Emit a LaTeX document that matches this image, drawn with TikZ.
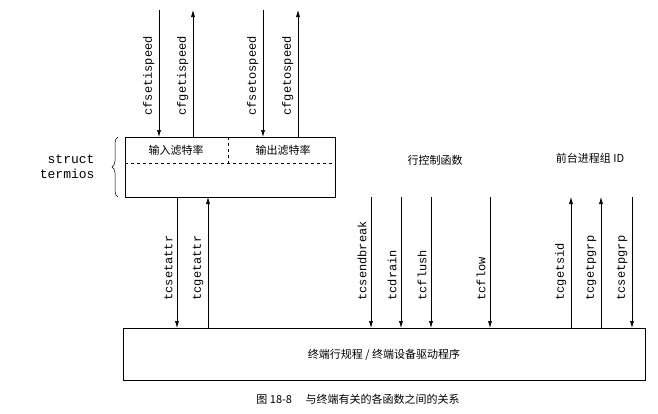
\documentclass[tikz,border=0pt]{standalone}
\usepackage{fontspec}
\setmonofont{Liberation Mono}
\newfontfamily\cjk{Noto Sans CJK SC}
\usetikzlibrary{decorations.pathreplacing,arrows.meta}
\begin{document}
\begin{tikzpicture}[x=1pt,y=-1pt,
  fn/.style={font=\ttfamily\fontsize{12}{12}\selectfont, rotate=90, anchor=south west},
  arr/.style={draw, -{Latex[length=7pt,width=4pt]}, line width=0.6pt},
  cn/.style={font=\cjk\fontsize{11}{13}\selectfont}]
\useasboundingbox (0,0) rectangle (658,413);
\node[draw, line width=0.6pt, minimum width=210pt, minimum height=60pt, anchor=north west, inner sep=0] (tb) at (125,137) {};
\draw[dashed] (125,163) -- (335,163);
\draw[dashed] (228,137) -- (228,163);
\node[cn] (in) at (176,150) {输入滤特率};
\node[cn] (out) at (283,150) {输出滤特率};
\draw[decorate, decoration={brace, amplitude=6pt}, line width=0.5pt] (118,197) -- (118,137);
\node[font=\ttfamily\fontsize{13}{15}\selectfont, align=right, anchor=east] (st) at (98,167) {struct\\termios};
\node[draw, line width=0.6pt, minimum width=522pt, minimum height=52pt, anchor=north west, inner sep=0] (bb) at (123,328) {};
\node[cn] (drv) at (384,355) {终端行规程 / 终端设备驱动程序};
\node[cn] (cap) at (358,399) {图 18-8 \quad 与终端有关的各函数之间的关系};
\node[cn] (lc) at (435,160) {行控制函数};
\node[cn] (fg) at (590,158) {前台进程组 ID};
\foreach \x/\n/\d in {159/cfsetispeed/1,193/cfgetispeed/0,263/cfsetospeed/1,298/cfgetospeed/0}{
  \coordinate (t\n) at (\x,10);
  \coordinate (b\n) at (\x,137);
  \ifnum\d=1 \draw[arr] (t\n) -- (b\n); \else \draw[arr] (b\n) -- (t\n); \fi
  \node[fn] (l\n) at (\x-1,119) {\n};
}
\foreach \x/\n/\d in {177/tcsetattr/1,208/tcgetattr/0,371/tcsendbreak/1,401/tcdrain/1,431/tcflush/1,490/tcflow/1,571/tcgetsid/0,601/tcgetpgrp/0,632/tcsetpgrp/1}{
  \coordinate (u\n) at (\x,197);
  \coordinate (d\n) at (\x,328);
  \ifnum\d=1 \draw[arr] (u\n) -- (d\n); \else \draw[arr] (d\n) -- (u\n); \fi
  \node[fn] (l\n) at (\x-1,304) {\n};
}
\end{tikzpicture}
\end{document}
